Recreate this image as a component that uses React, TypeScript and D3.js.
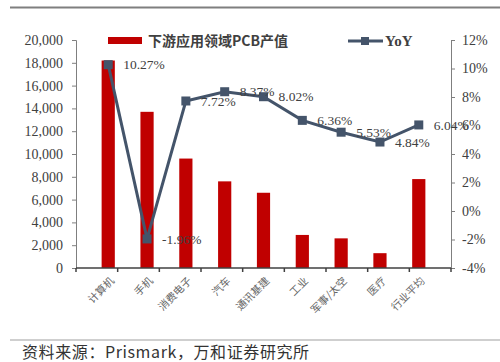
import React, { useEffect, useRef } from 'react';
import * as d3 from 'd3';

const categories = ['计算机', '手机', '消费电子', '汽车', '通讯基建', '工业', '军事/太空', '医疗', '行业平均'];
const pcbValues = [18200, 13700, 9600, 7600, 6600, 2900, 2600, 1300, 7800];
const yoyValues = [10.27, -1.96, 7.72, 8.37, 8.02, 6.36, 5.53, 4.84, 6.04];
const leftTicks = [0, 2000, 4000, 6000, 8000, 10000, 12000, 14000, 16000, 18000, 20000];
const rightTicks = [-4, -2, 0, 2, 4, 6, 8, 10, 12];

const BAR_COLOR = '#C00000';
const LINE_COLOR = '#44546A';
const SERIF = '"Times New Roman", "Liberation Serif", serif';
const CJK = '"Noto Sans CJK SC", sans-serif';

const App: React.FC = () => {
  const ref = useRef<SVGSVGElement>(null);

  useEffect(() => {
    if (!ref.current) return;
    const svg = d3.select(ref.current);
    svg.selectAll('*').remove();

    const left = 76;
    const right = 451;
    const top = 40;
    const bottom = 268;

    const x = d3.scaleBand().domain(categories).range([left, right]).padding(0.66);
    const yL = d3.scaleLinear().domain([0, 20000]).range([bottom, top]);
    const yR = d3.scaleLinear().domain([-4, 12]).range([bottom, top]);
    const cx = (c: string) => (x(c) || 0) + x.bandwidth() / 2;

    // header / footer rules
    svg.append('line').attr('x1', 10).attr('x2', 500).attr('y1', 7.5).attr('y2', 7.5)
      .attr('stroke', '#7f7f7f').attr('stroke-width', 2);
    svg.append('line').attr('x1', 10).attr('x2', 500).attr('y1', 340).attr('y2', 340)
      .attr('stroke', '#bfbfbf').attr('stroke-width', 1.5);

    // bars
    svg.selectAll('.bar').data(pcbValues).enter().append('rect')
      .attr('x', (_, i) => x(categories[i]) || 0)
      .attr('width', x.bandwidth())
      .attr('y', d => yL(d))
      .attr('height', d => bottom - yL(d))
      .attr('fill', BAR_COLOR);

    // left axis
    const gL = svg.append('g').attr('transform', `translate(${left},0)`)
      .call(d3.axisLeft(yL).tickValues(leftTicks).tickSize(4).tickPadding(9).tickFormat(d3.format(',')));
    gL.selectAll('path,line').attr('stroke', '#7f7f7f');
    gL.selectAll('text').style('font-family', SERIF).style('font-size', '14px').attr('fill', '#404040');

    // right axis
    const gR = svg.append('g').attr('transform', `translate(${right},0)`)
      .call(d3.axisRight(yR).tickValues(rightTicks).tickSize(4).tickPadding(7).tickFormat(d => `${d}%`));
    gR.selectAll('path,line').attr('stroke', '#7f7f7f');
    gR.selectAll('text').style('font-family', SERIF).style('font-size', '14px').attr('fill', '#404040');

    // x axis
    const gX = svg.append('g');
    gX.append('line').attr('x1', left).attr('x2', right).attr('y1', bottom).attr('y2', bottom)
      .attr('stroke', '#404040').attr('stroke-width', 1.5);
    gX.selectAll('.xt').data(d3.range(categories.length + 1)).enter().append('line')
      .attr('x1', i => left + i * (right - left) / categories.length)
      .attr('x2', i => left + i * (right - left) / categories.length)
      .attr('y1', bottom).attr('y2', bottom + 4)
      .attr('stroke', '#404040').attr('stroke-width', 1.5);
    gX.selectAll('.xl').data(categories).enter().append('text')
      .attr('transform', d => `translate(${cx(d) + 4},${bottom + 11}) rotate(-45)`)
      .attr('text-anchor', 'end')
      .attr('dy', '0.35em')
      .style('font-family', CJK).style('font-size', '10.5px').attr('fill', '#666')
      .text(d => d);

    // line
    const line = d3.line<number>().x((_, i) => cx(categories[i])).y(d => yR(d));
    svg.append('path').datum(yoyValues).attr('d', line)
      .attr('fill', 'none').attr('stroke', LINE_COLOR).attr('stroke-width', 3);
    svg.selectAll('.mk').data(yoyValues).enter().append('rect')
      .attr('x', (_, i) => cx(categories[i]) - 4.5)
      .attr('y', d => yR(d) - 4.5)
      .attr('width', 9).attr('height', 9)
      .attr('fill', LINE_COLOR);

    // data labels
    svg.selectAll('.lb').data(yoyValues).enter().append('text')
      .attr('x', (_, i) => cx(categories[i]) + 15)
      .attr('y', d => yR(d))
      .attr('dy', '0.35em')
      .style('font-family', SERIF).style('font-size', '13.5px').attr('fill', '#404040')
      .text(d => `${d.toFixed(2)}%`);

    // legend
    svg.append('rect').attr('x', 108).attr('y', 37).attr('width', 34).attr('height', 7).attr('fill', BAR_COLOR);
    svg.append('text').attr('x', 148).attr('y', 41).attr('dy', '0.35em')
      .style('font-family', CJK).style('font-size', '14px').style('font-weight', 'bold').attr('fill', '#404040')
      .text('下游应用领域PCB产值');
    svg.append('line').attr('x1', 348).attr('x2', 383).attr('y1', 41).attr('y2', 41)
      .attr('stroke', LINE_COLOR).attr('stroke-width', 3);
    svg.append('rect').attr('x', 361).attr('y', 37).attr('width', 8).attr('height', 8).attr('fill', LINE_COLOR);
    svg.append('text').attr('x', 385).attr('y', 41).attr('dy', '0.35em')
      .style('font-family', SERIF).style('font-size', '15px').style('font-weight', 'bold').attr('fill', '#404040')
      .text('YoY');

    // source
    svg.append('text').attr('x', 22).attr('y', 352).attr('dy', '0.35em')
      .style('font-family', CJK).style('font-size', '16px').attr('fill', '#333')
      .style('letter-spacing', '0.6px')
      .text('资料来源：Prismark，万和证券研究所');
  }, []);

  return (
    <svg ref={ref} width={500} height={362}
      style={{ position: 'absolute', left: 0, top: 0, background: '#fff' }} />
  );
};

export default App;
